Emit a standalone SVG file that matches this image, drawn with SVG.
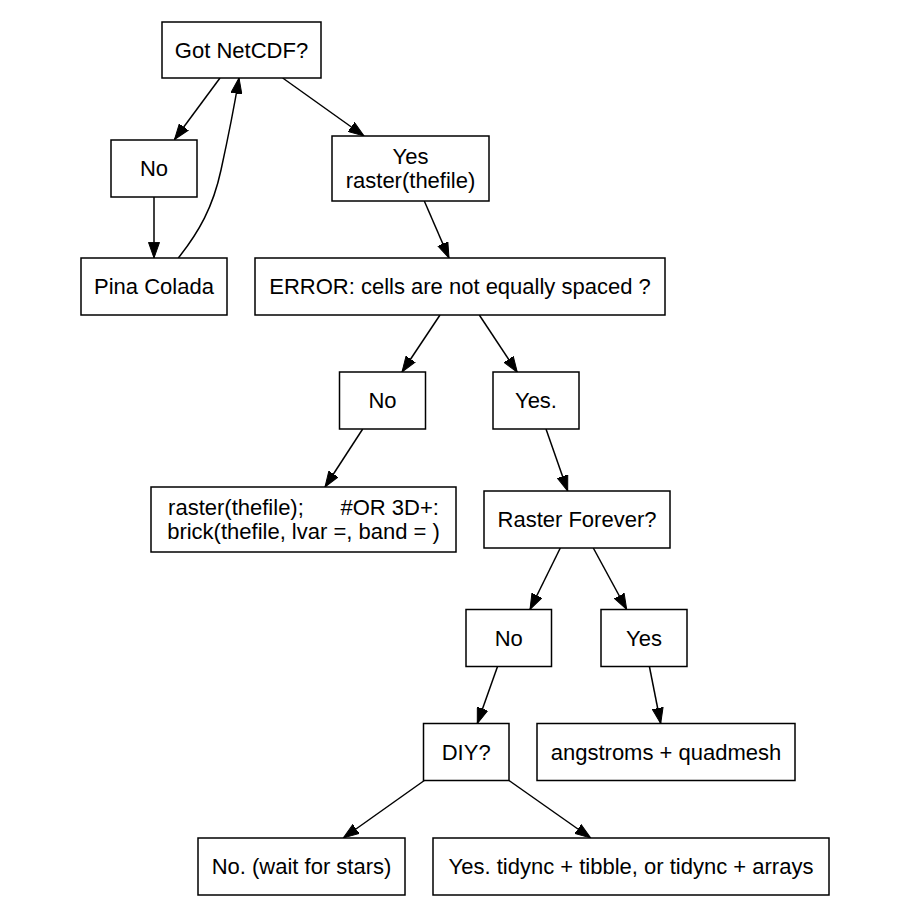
<svg xmlns="http://www.w3.org/2000/svg" width="908" height="914" viewBox="0 0 908 914">
<style>
.box{fill:#fff;stroke:#000;stroke-width:1.5}
.lbl{font-family:"Liberation Sans",Arial,sans-serif;font-size:22px;fill:#000;text-anchor:middle;white-space:pre}
.edge{fill:none;stroke:#000;stroke-width:1.5;marker-end:url(#arr)}
</style>
<defs>
<marker id="arr" markerUnits="userSpaceOnUse" viewBox="0 -6 16 12" refX="15.6" refY="0" markerWidth="16" markerHeight="12" orient="auto">
<path d="M0,-5.5 L15.6,0 L0,5.5 Z" fill="#000" stroke="#000" stroke-width="1"/>
</marker>
</defs>
<rect width="908" height="914" fill="#fff"/>
<g id="connectors">
<line class="edge" x1="220" y1="78" x2="174.5" y2="139.5"/>
<line class="edge" x1="154" y1="197" x2="154" y2="258"/>
<path class="edge" d="M178.3,258 C199,232 213,207 221,170 C228,138 234,108 239,78"/>
<line class="edge" x1="282.7" y1="78" x2="364" y2="136"/>
<line class="edge" x1="424.3" y1="201" x2="449" y2="258"/>
<line class="edge" x1="440" y1="315" x2="402" y2="372"/>
<line class="edge" x1="479.3" y1="315" x2="517.3" y2="372.3"/>
<line class="edge" x1="362.7" y1="429" x2="325" y2="487"/>
<line class="edge" x1="546" y1="429" x2="567.7" y2="491"/>
<line class="edge" x1="560.3" y1="548" x2="530" y2="609.5"/>
<line class="edge" x1="593.3" y1="548" x2="626.7" y2="609.5"/>
<line class="edge" x1="497.7" y1="666" x2="477.3" y2="723.5"/>
<line class="edge" x1="649.3" y1="666" x2="660.7" y2="723.5"/>
<line class="edge" x1="424.3" y1="780.5" x2="343.3" y2="838"/>
<line class="edge" x1="509" y1="780.5" x2="590.7" y2="838"/>
</g>
<g id="n1"><rect class="box" x="162" y="22" width="159" height="56"/><text class="lbl" x="241.5" y="57.5">Got NetCDF?</text></g>
<g id="n2"><rect class="box" x="111" y="140" width="86" height="57"/><text class="lbl" x="154" y="176">No</text></g>
<g id="n3"><rect class="box" x="332" y="136" width="157" height="65"/><text class="lbl" x="410.5" y="164">Yes</text><text class="lbl" x="410.5" y="188">raster(thefile)</text></g>
<g id="n4"><rect class="box" x="81" y="258" width="146" height="57"/><text class="lbl" x="154" y="294">Pina Colada</text></g>
<g id="n5"><rect class="box" x="255" y="258" width="410" height="57"/><text class="lbl" x="460" y="294">ERROR: cells are not equally spaced ?</text></g>
<g id="n6"><rect class="box" x="339.5" y="372" width="86" height="57"/><text class="lbl" x="382.5" y="408">No</text></g>
<g id="n7"><rect class="box" x="493" y="372" width="86" height="57"/><text class="lbl" x="536" y="408">Yes.</text></g>
<g id="n8"><rect class="box" x="151" y="487" width="305" height="65"/><text class="lbl" x="303.5" y="515" xml:space="preserve">raster(thefile);      #OR 3D+:</text><text class="lbl" x="303.5" y="539">brick(thefile, lvar =, band = )</text></g>
<g id="n9"><rect class="box" x="484" y="491" width="186" height="57"/><text class="lbl" x="577" y="527">Raster Forever?</text></g>
<g id="n10"><rect class="box" x="466" y="609.5" width="85.5" height="57"/><text class="lbl" x="508.7" y="645.5">No</text></g>
<g id="n11"><rect class="box" x="601" y="609.5" width="86" height="57"/><text class="lbl" x="644" y="645.5">Yes</text></g>
<g id="n12"><rect class="box" x="423.5" y="723.5" width="85.5" height="57"/><text class="lbl" x="466.2" y="759.5">DIY?</text></g>
<g id="n13"><rect class="box" x="537" y="723.5" width="258" height="57"/><text class="lbl" x="666" y="759.5">angstroms + quadmesh</text></g>
<g id="n14"><rect class="box" x="198" y="838" width="207" height="57"/><text class="lbl" x="301.5" y="874">No. (wait for stars)</text></g>
<g id="n15"><rect class="box" x="433" y="838" width="396" height="57"/><text class="lbl" x="631" y="874">Yes. tidync + tibble, or tidync + arrays</text></g>
</svg>
